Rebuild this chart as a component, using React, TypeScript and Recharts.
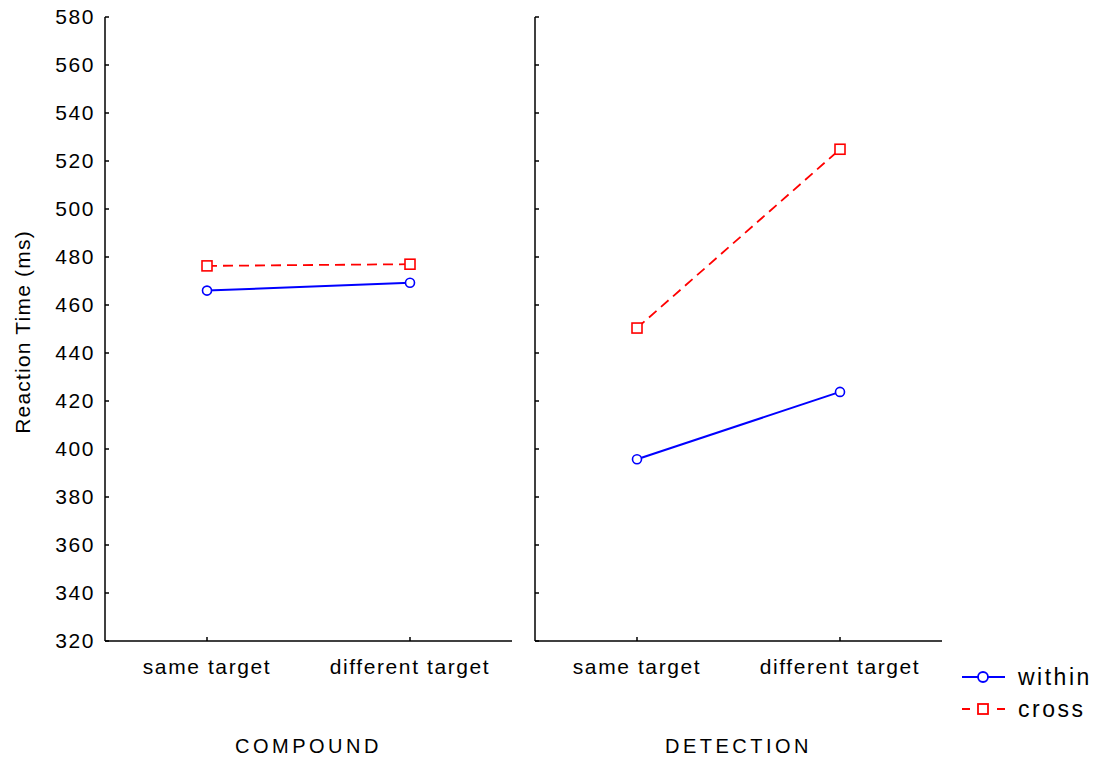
import { LineChart, Line, XAxis, YAxis, Label } from 'recharts'

const categories = ['same target', 'different target']
const compoundWithin = [466.0, 469.3]
const compoundCross = [476.3, 477.0]
const detectionWithin = [395.7, 423.8]
const detectionCross = [450.4, 524.9]
const yTicks = [320, 340, 360, 380, 400, 420, 440, 460, 480, 500, 520, 540, 560, 580]

const FONT = '"Liberation Sans", Arial, sans-serif'
const BLUE = '#0000ff'
const RED = '#ff0000'
const axisLine = { stroke: '#000', strokeWidth: 1.5 }
const tickLine = { stroke: '#000', strokeWidth: 1.5 }
const tickStyle = { fontSize: 21, fill: '#000', fontFamily: FONT, letterSpacing: 1.6 }

const squareDot = (p: any) => (
  <rect
    key={`sq-${p.index}`}
    x={p.cx - 5}
    y={p.cy - 5}
    width={10}
    height={10}
    fill="#fff"
    stroke={RED}
    strokeWidth={1.6}
  />
)

function Panel({ within, cross, title, showY }: { within: number[]; cross: number[]; title: string; showY: boolean }) {
  const rows = categories.map((c, i) => ({ cat: c, within: within[i], cross: cross[i] }))
  const yWidth = showY ? 105 : 15
  return (
    <LineChart width={yWidth + 407 + 8} height={766} data={rows} margin={{ top: 17, right: 8, bottom: 0, left: 0 }}>
      <XAxis
        dataKey="cat"
        height={125}
        padding={{ left: 102, right: 102 }}
        axisLine={axisLine}
        tickLine={tickLine}
        tickSize={-4}
        tickMargin={22}
        tick={tickStyle}
        interval={0}
      >
        <Label
          value={title}
          position="insideBottom"
          offset={13}
          style={{ fontSize: 20, fill: '#000', fontFamily: FONT, letterSpacing: 3.5 }}
        />
      </XAxis>
      <YAxis
        width={yWidth}
        domain={[320, 580]}
        ticks={yTicks}
        interval={0}
        axisLine={axisLine}
        tickLine={tickLine}
        tickSize={-4}
        tickMargin={14}
        tick={tickStyle}
        tickFormatter={showY ? (v: number) => String(v) : () => ''}
        allowDataOverflow
      >
        {showY && (
          <Label
            content={({ viewBox }: any) => {
              const cy = viewBox.y + viewBox.height / 2 + 3
              return (
                <text
                  x={22}
                  y={cy}
                  transform={`rotate(-90 22 ${cy})`}
                  textAnchor="middle"
                  dominantBaseline="central"
                  fontSize={21}
                  fontFamily={FONT}
                  letterSpacing={1.2}
                  fill="#000"
                >
                  Reaction Time (ms)
                </text>
              )
            }}
          />
        )}
      </YAxis>
      <Line
        dataKey="cross"
        stroke={RED}
        strokeWidth={1.8}
        strokeDasharray="10 6"
        dot={squareDot}
        activeDot={false}
        isAnimationActive={false}
      />
      <Line
        dataKey="within"
        stroke={BLUE}
        strokeWidth={2}
        dot={{ r: 4.5, fill: '#fff', stroke: BLUE, strokeWidth: 1.6 }}
        activeDot={false}
        isAnimationActive={false}
      />
    </LineChart>
  )
}

export default function App() {
  return (
    <div style={{ position: 'fixed', left: 0, top: 0, width: 1099, height: 766, background: '#fff', fontFamily: FONT }}>
      <div style={{ position: 'absolute', left: 0, top: 0 }}>
        <Panel within={compoundWithin} cross={compoundCross} title="COMPOUND" showY />
      </div>
      <div style={{ position: 'absolute', left: 520, top: 0 }}>
        <Panel within={detectionWithin} cross={detectionCross} title="DETECTION" showY={false} />
      </div>
      <svg style={{ position: 'absolute', left: 950, top: 660 }} width={149} height={70}>
        <line x1={12} y1={17} x2={55} y2={17} stroke={BLUE} strokeWidth={2} />
        <circle cx={33} cy={17} r={5} fill="#fff" stroke={BLUE} strokeWidth={1.8} />
        <text x={68} y={17} dominantBaseline="central" fontSize={23} fontFamily={FONT} letterSpacing={2.5}>within</text>
        <line x1={12} y1={49} x2={20} y2={49} stroke={RED} strokeWidth={2} />
        <line x1={47} y1={49} x2={55} y2={49} stroke={RED} strokeWidth={2} />
        <rect x={28} y={44} width={10} height={10} fill="#fff" stroke={RED} strokeWidth={1.8} />
        <text x={68} y={49} dominantBaseline="central" fontSize={23} fontFamily={FONT} letterSpacing={2.5}>cross</text>
      </svg>
    </div>
  )
}
